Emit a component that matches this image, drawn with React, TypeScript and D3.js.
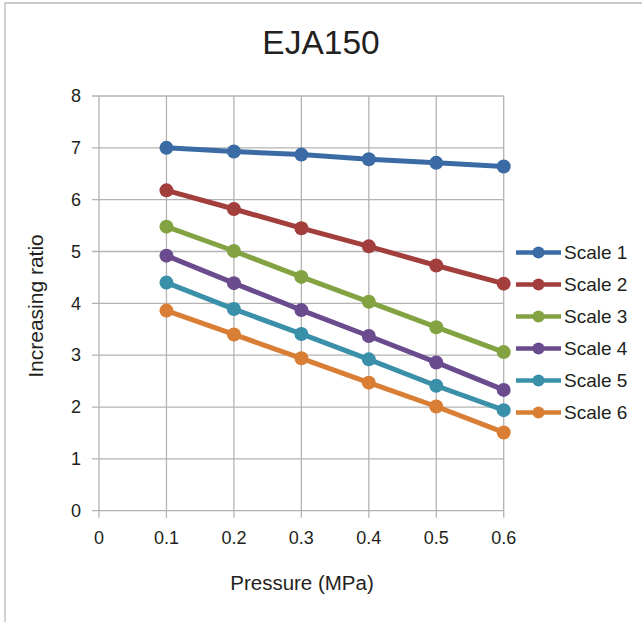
import React from "react";
import * as d3 from "d3";

const pressures = [0.1, 0.2, 0.3, 0.4, 0.5, 0.6];
const seriesNames = ["Scale 1", "Scale 2", "Scale 3", "Scale 4", "Scale 5", "Scale 6"];
const scale1 = [7.0, 6.93, 6.87, 6.78, 6.71, 6.64];
const scale2 = [6.18, 5.82, 5.45, 5.1, 4.73, 4.38];
const scale3 = [5.48, 5.01, 4.51, 4.03, 3.54, 3.06];
const scale4 = [4.92, 4.39, 3.87, 3.37, 2.86, 2.33];
const scale5 = [4.4, 3.89, 3.41, 2.92, 2.41, 1.94];
const scale6 = [3.86, 3.4, 2.94, 2.47, 2.01, 1.51];
const seriesColors = ["#3B6BA5", "#A23E3B", "#83A343", "#6A4C8E", "#3A90A9", "#D97F35"];
const xTicks = [0, 0.1, 0.2, 0.3, 0.4, 0.5, 0.6];
const yTicks = [0, 1, 2, 3, 4, 5, 6, 7, 8];

const allSeries = [scale1, scale2, scale3, scale4, scale5, scale6];

export default function App() {
  const W = 642, H = 622;
  const left = 99, right = 503.7, top = 96, bottom = 510.7;
  const x = d3.scaleLinear().domain([0, 0.6]).range([left, right]);
  const y = d3.scaleLinear().domain([0, 8]).range([bottom, top]);
  const line = d3.line<number>().x((_, i) => x(pressures[i])).y((d) => y(d));
  const font = "Arial, 'Liberation Sans', Helvetica, sans-serif";
  const grid = "#b3b3b3";
  return (
    <svg width={W} height={H} style={{ position: "absolute", left: 0, top: 0, background: "#fff" }} fontFamily={font}>
      <rect x={0} y={0} width={W} height={H} fill="#fff" />
      <path d={`M5,${H} L5,3 L${W},3`} fill="none" stroke="#b8b8b8" strokeWidth={1.3} />
      <text x={321} y={54} textAnchor="middle" fontSize={33.5} fill="#231f20">EJA150</text>
      {xTicks.map((t) => (
        <g key={"x" + t}>
          <line x1={x(t)} x2={x(t)} y1={top} y2={bottom + 7} stroke={grid} strokeWidth={1.3} />
          <text x={x(t)} y={544} textAnchor="middle" fontSize={18} fill="#231f20">{t}</text>
        </g>
      ))}
      {yTicks.map((t) => (
        <g key={"y" + t}>
          <line x1={left - 7} x2={right} y1={y(t)} y2={y(t)} stroke={grid} strokeWidth={1.3} />
          <text x={81} y={y(t)} dy="0.35em" textAnchor="end" fontSize={18} fill="#231f20">{t}</text>
        </g>
      ))}
      <text x={302} y={590} textAnchor="middle" fontSize={20.5} fill="#231f20">Pressure (MPa)</text>
      <text transform={`translate(42.5,306) rotate(-90)`} textAnchor="middle" fontSize={21} fill="#231f20">Increasing ratio</text>
      {allSeries.map((s, si) => (
        <g key={"s" + si}>
          <path d={line(s) || ""} fill="none" stroke={seriesColors[si]} strokeWidth={5} strokeLinejoin="round" />
          {s.map((v, i) => (
            <circle key={i} cx={x(pressures[i])} cy={y(v)} r={7} fill={seriesColors[si]} />
          ))}
        </g>
      ))}
      {seriesNames.map((n, i) => {
        const ly = 252.5 + i * 32;
        return (
          <g key={"l" + i}>
            <line x1={516} x2={561} y1={ly} y2={ly} stroke={seriesColors[i]} strokeWidth={4.5} />
            <circle cx={538.5} cy={ly} r={6} fill={seriesColors[i]} />
            <text x={564} y={ly} dy="0.35em" fontSize={19} fill="#231f20">{n}</text>
          </g>
        );
      })}
    </svg>
  );
}
